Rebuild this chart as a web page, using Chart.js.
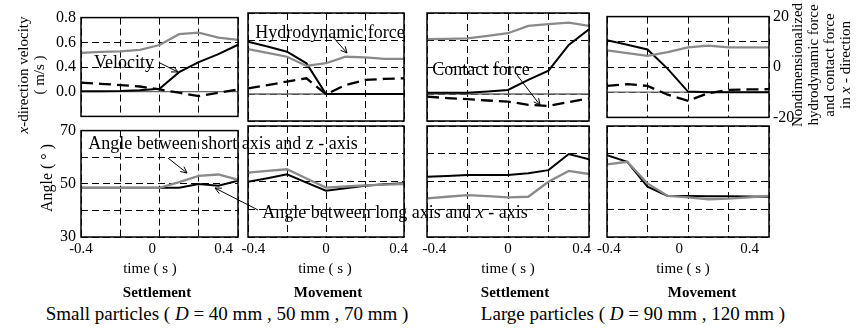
<!DOCTYPE html>
<html>
<head>
<meta charset="utf-8">
<script src="https://cdn.jsdelivr.net/npm/chart.js@4/dist/chart.umd.min.js"></script>
<style>
body { margin: 0; background: #fff; width: 860px; height: 329px; position: relative; overflow: hidden;
       font-family: 'Liberation Serif', 'Times New Roman', serif; color: #000; }
canvas { position: absolute; }
.t { position: absolute; white-space: nowrap; transform: translate(-50%, -50%); line-height: 1; }
.v { position: absolute; white-space: nowrap; transform: translate(-50%, -50%) rotate(-90deg); text-align: center; }
svg { position: absolute; left: 0; top: 0; }
</style>
</head>
<body>
<div id="root"></div>
<script>
// time axis (s), same for every panel
var TIME = [-0.4, -0.3, -0.2, -0.1, 0, 0.1, 0.2, 0.3, 0.4];

// x-direction velocity (m/s, left axis)
var velSmallSettle = [0.004, 0.004, 0.005, 0.011, 0.024, 0.158, 0.239, 0.304, 0.380];
var velSmallMove   = [0.387, 0.352, 0.313, 0.227, 0, 0, 0, 0, 0];
var velLargeSettle = [0.010, 0.010, 0.010, 0.019, 0.030, 0.104, 0.173, 0.363, 0.479];
var velLargeMove   = [0.413, 0.376, 0.339, 0.185, 0.005, 0, 0, 0, 0];

// nondimensionalized hydrodynamic force (right axis)
var hydroSmallSettle = [5.7, 6.1, 6.3, 6.9, 8.9, 13.3, 13.9, 11.9, 11.0];
var hydroSmallMove   = [6.6, 5.2, 3.8, 0.4, 1.4, 3.8, 3.6, 3.0, 3.0];
var hydroLargeSettle = [10.3, 10.4, 10.6, 11.5, 12.5, 15.2, 15.9, 16.4, 15.2];
var hydroLargeMove   = [6.6, 5.5, 4.4, 5.9, 7.8, 8.5, 7.8, 7.8, 7.8];

// nondimensionalized contact force (right axis)
var contactSmallSettle = [-6.3, -6.8, -7.3, -7.9, -9.1, -10.4, -11.8, -10.4, -9.1];
var contactSmallMove   = [-7.9, -6.7, -5.4, -4.2, -10.1, -6.7, -4.8, -4.4, -4.2];
var contactLargeSettle = [-11.0, -11.5, -11.9, -12.4, -12.8, -14.0, -14.4, -13.0, -11.6];
var contactLargeMove   = [-7.5, -6.8, -7.5, -11.0, -13.4, -10.4, -9.1, -8.9, -8.8];

// angle between long axis and x-axis (deg)
var longSmallSettle = [48.5, 48.5, 48.5, 48.5, 48.5, 48.5, 49.9, 49.3, 51.2];
var longSmallMove   = [49.9, 51.2, 52.6, 49.6, 46.7, 47.6, 48.5, 49.0, 49.4];
var longLargeSettle = [51.7, 52.0, 52.3, 52.3, 52.3, 53.0, 54.1, 59.9, 58.0];
var longLargeMove   = [59.5, 57.1, 48.1, 44.8, 44.8, 44.7, 44.7, 44.6, 44.5];

// angle between short axis and z-axis (deg)
var shortSmallSettle = [48.5, 48.5, 48.5, 48.5, 48.5, 50.6, 53.0, 53.5, 51.5];
var shortSmallMove   = [53.2, 53.8, 54.4, 51.1, 47.8, 48.2, 48.6, 48.9, 49.1];
var shortLargeSettle = [43.9, 44.5, 45.1, 44.7, 44.3, 44.5, 49.9, 53.8, 52.7];
var shortLargeMove   = [56.2, 57.1, 49.3, 44.8, 44.3, 43.6, 43.8, 44.3, 44.8];

// tick labels as printed
var VEL_TICKS = [-0.2, 0, 0.2, 0.4, 0.6];
var VEL_TICK_TEXT = ['', '0.0', '0.4', '0.6', '0.8'];
var FORCE_TICKS = [-20, -10, 0, 10, 20];
var FORCE_TICK_TEXT = ['-20', '', '0', '', '20'];
var ANGLE_TICKS = [30, 40, 50, 60, 70];
var ANGLE_TICK_TEXT = ['30', '', '50', '', '70'];
var TIME_TICKS = [-0.4, 0, 0.4];
var TIME_TICK_TEXT = ['-0.4', '0', '0.4'];

var velocity = [velSmallSettle, velSmallMove, velLargeSettle, velLargeMove];
var hydro = [hydroSmallSettle, hydroSmallMove, hydroLargeSettle, hydroLargeMove];
var contact = [contactSmallSettle, contactSmallMove, contactLargeSettle, contactLargeMove];
var longAngle = [longSmallSettle, longSmallMove, longLargeSettle, longLargeMove];
var shortAngle = [shortSmallSettle, shortSmallMove, shortLargeSettle, shortLargeMove];

// layout of the plot boxes on the page
var plotLeft = [81, 248, 427, 607];
var plotRight = [238, 404, 589, 769];
var rowTop = [13, 126];
var rowBottom = [121, 237];
var labelMin = [-0.4, -0.43, -0.44, -0.41];
var labelMax = [0.48, 0.43, 0.44, 0.51];

var GRAY = '#8a8a8a';
var FONT = "'Liberation Serif', 'Times New Roman', serif";
var PAD = 14;

function pts(ys) {
    return TIME.map(function(t, i) { return { x: t, y: ys[i] }; });
}

function lookup(ticks, texts) {
    return function(v) {
        for (var i = 0; i < ticks.length; i++) {
            if (Math.abs(ticks[i] - v) < 1e-6) return texts[i];
        }
        return '';
    };
}

var framePlugin = {
    id: 'frame',
    afterDraw: function(chart) {
        var a = chart.chartArea, ctx = chart.ctx;
        ctx.save();
        ctx.strokeStyle = '#000';
        ctx.lineWidth = 1.5;
        ctx.strokeRect(a.left, a.top, a.right - a.left, a.bottom - a.top);
        ctx.restore();
    }
};

// thin reference line at zero velocity
var zeroPlugin = {
    id: 'zeroLine',
    beforeDatasetsDraw: function(chart) {
        var s = chart.scales.yV;
        if (!s) return;
        var y = s.getPixelForValue(0), a = chart.chartArea, ctx = chart.ctx;
        ctx.save();
        ctx.strokeStyle = '#6a6a6a';
        ctx.lineWidth = 1.3;
        ctx.beginPath();
        ctx.moveTo(a.left, y);
        ctx.lineTo(a.right, y);
        ctx.stroke();
        ctx.restore();
    }
};

function gridAxis(extra) {
    var o = {
        grid: { color: '#000', lineWidth: 1, drawTicks: false },
        border: { display: false, dash: [7, 4] },
        ticks: { display: false }
    };
    for (var k in extra) o[k] = extra[k];
    return o;
}

function makePanel(row, col) {
    var leftW = col === 0 ? 30 : 0;
    var rightW = (row === 0 && col === 3) ? 30 : 0;
    var bottomH = row === 1 ? 22 : 0;
    var plotW = plotRight[col] - plotLeft[col];
    var plotH = rowBottom[row] - rowTop[row];
    var padB = row === 0 ? 10 : 0;

    var cv = document.createElement('canvas');
    var w = plotW + 2 * PAD + leftW + rightW;
    var h = plotH + 10 + padB + bottomH;
    cv.width = w; cv.height = h;
    cv.style.width = w + 'px'; cv.style.height = h + 'px';
    cv.style.left = (plotLeft[col] - PAD - leftW) + 'px';
    cv.style.top = (rowTop[row] - 10) + 'px';
    document.getElementById('root').appendChild(cv);

    var tickFont = { family: FONT, size: 16 };
    var scales = {
        x: gridAxis({
            type: 'linear', position: 'bottom', min: -0.4, max: 0.4, weight: 0,
            ticks: { display: false, stepSize: 0.2 },
            afterFit: function(s) { s.height = 0; }
        })
    };
    var datasets;

    if (row === 0) {
        scales.yF = gridAxis({
            type: 'linear', position: 'right', min: -20, max: 20,
            afterBuildTicks: function(s) { s.ticks = FORCE_TICKS.map(function(v) { return { value: v }; }); },
            ticks: { display: col === 3, color: '#000', font: tickFont, padding: 4,
                     callback: lookup(FORCE_TICKS, FORCE_TICK_TEXT) },
            afterFit: function(s) { s.width = rightW; }
        });
        scales.yV = {
            type: 'linear', position: 'left', min: -0.2, max: 0.6,
            grid: { display: false, drawTicks: false },
            border: { display: false },
            afterBuildTicks: function(s) { s.ticks = VEL_TICKS.map(function(v) { return { value: v }; }); },
            ticks: { display: col === 0, color: '#000', font: tickFont, padding: 5,
                     callback: lookup(VEL_TICKS, VEL_TICK_TEXT) },
            afterFit: function(s) { s.width = leftW; }
        };
        datasets = [
            { label: 'Hydrodynamic force', data: pts(hydro[col]), yAxisID: 'yF',
              borderColor: GRAY, borderWidth: 2.3 },
            { label: 'Contact force', data: pts(contact[col]), yAxisID: 'yF',
              borderColor: '#000', borderWidth: 2.3, borderDash: [12, 6] },
            { label: 'Velocity', data: pts(velocity[col]), yAxisID: 'yV',
              borderColor: '#000', borderWidth: 2 }
        ];
    } else {
        scales.yA = gridAxis({
            type: 'linear', position: 'left', min: 30, max: 70,
            afterBuildTicks: function(s) { s.ticks = ANGLE_TICKS.map(function(v) { return { value: v }; }); },
            ticks: { display: col === 0, color: '#000', font: tickFont, padding: 5,
                     callback: lookup(ANGLE_TICKS, ANGLE_TICK_TEXT) },
            afterFit: function(s) { s.width = leftW; }
        });
        scales.xl = {
            type: 'linear', position: 'bottom', min: labelMin[col], max: labelMax[col], weight: 1,
            grid: { display: false, drawTicks: false },
            border: { display: false },
            afterBuildTicks: function(s) { s.ticks = TIME_TICKS.map(function(v) { return { value: v }; }); },
            ticks: { color: '#000', font: { family: FONT, size: 15 }, padding: 3, maxRotation: 0,
                     autoSkip: false, callback: lookup(TIME_TICKS, TIME_TICK_TEXT) },
            afterFit: function(s) { s.height = bottomH; }
        };
        datasets = [
            { label: 'Angle between short axis and z - axis', data: pts(shortAngle[col]), yAxisID: 'yA',
              borderColor: GRAY, borderWidth: 2.3 },
            { label: 'Angle between long axis and x - axis', data: pts(longAngle[col]), yAxisID: 'yA',
              borderColor: '#000', borderWidth: 2 }
        ];
    }

    datasets.forEach(function(d) { d.xAxisID = 'x'; d.pointRadius = 0; d.tension = 0; d.fill = false; });

    new Chart(cv, {
        type: 'line',
        data: { datasets: datasets },
        options: {
            responsive: false,
            animation: false,
            events: [],
            layout: { padding: { top: 10, bottom: padB, left: PAD, right: PAD } },
            plugins: { legend: { display: false }, tooltip: { enabled: false } },
            scales: scales
        },
        plugins: row === 0 ? [zeroPlugin, framePlugin] : [framePlugin]
    });
}

for (var r = 0; r < 2; r++) {
    for (var c = 0; c < 4; c++) makePanel(r, c);
}

// text labels
var texts = [
    ['Velocity', 124, 62, 18, ''],
    ['Hydrodynamic force', 330, 32, 18, ''],
    ['Contact force', 481, 69, 18, ''],
    ['Angle between short axis and z - axis', 223, 143, 18, ''],
    ['Angle between long axis and <i>x</i> - axis', 395, 212, 18, ''],
    ['time ( s )', 150, 268, 15, ''],
    ['time ( s )', 325, 268, 15, ''],
    ['time ( s )', 508, 268, 15, ''],
    ['time ( s )', 683, 268, 15, ''],
    ['Settlement', 157, 292, 15, 'b'],
    ['Movement', 328, 292, 15, 'b'],
    ['Settlement', 515, 292, 15, 'b'],
    ['Movement', 702, 292, 15, 'b'],
    ['Small particles ( <i>D</i> = 40 mm , 50 mm , 70 mm )', 227, 313, 19, ''],
    ['Large particles ( <i>D</i> = 90 mm , 120 mm )', 633, 313, 19, '']
];
var root = document.getElementById('root');
texts.forEach(function(t) {
    var d = document.createElement('div');
    d.className = 't';
    d.innerHTML = t[0];
    d.style.left = t[1] + 'px';
    d.style.top = t[2] + 'px';
    d.style.fontSize = t[3] + 'px';
    if (t[4] === 'b') d.style.fontWeight = 'bold';
    root.appendChild(d);
});

var vtexts = [
    ['<i>x</i>-direction velocity<br>( m/s )', 31, 75, 15, '16px'],
    ['Angle ( &#176; )', 47, 178, 16, '16px'],
    ['Nondimensionalized<br>hydrodynamic force<br>and contact force<br>in <i>x</i> - direction', 821, 65, 15, '16px']
];
vtexts.forEach(function(t) {
    var d = document.createElement('div');
    d.className = 'v';
    d.innerHTML = t[0];
    d.style.left = t[1] + 'px';
    d.style.top = t[2] + 'px';
    d.style.fontSize = t[3] + 'px';
    d.style.lineHeight = t[4];
    root.appendChild(d);
});

// arrows from labels to lines
var arrows = [
    [160, 63, 178, 72],
    [333, 37, 347, 53],
    [517, 75, 540, 105],
    [168, 158, 187, 173],
    [258, 210, 215, 188]
];
var svg = '<svg width="860" height="329" xmlns="http://www.w3.org/2000/svg">';
arrows.forEach(function(a) {
    var ang = Math.atan2(a[3] - a[1], a[2] - a[0]);
    var L = 7, s = 0.45;
    var p1 = [a[2] - L * Math.cos(ang - s), a[3] - L * Math.sin(ang - s)];
    var p2 = [a[2] - L * Math.cos(ang + s), a[3] - L * Math.sin(ang + s)];
    svg += '<line x1="' + a[0] + '" y1="' + a[1] + '" x2="' + a[2] + '" y2="' + a[3] + '" stroke="#000" stroke-width="1"/>';
    svg += '<polyline points="' + p1.join(',') + ' ' + a[2] + ',' + a[3] + ' ' + p2.join(',') +
           '" fill="none" stroke="#000" stroke-width="1"/>';
});
svg += '</svg>';
var holder = document.createElement('div');
holder.innerHTML = svg;
root.appendChild(holder.firstChild);
</script>
</body>
</html>
